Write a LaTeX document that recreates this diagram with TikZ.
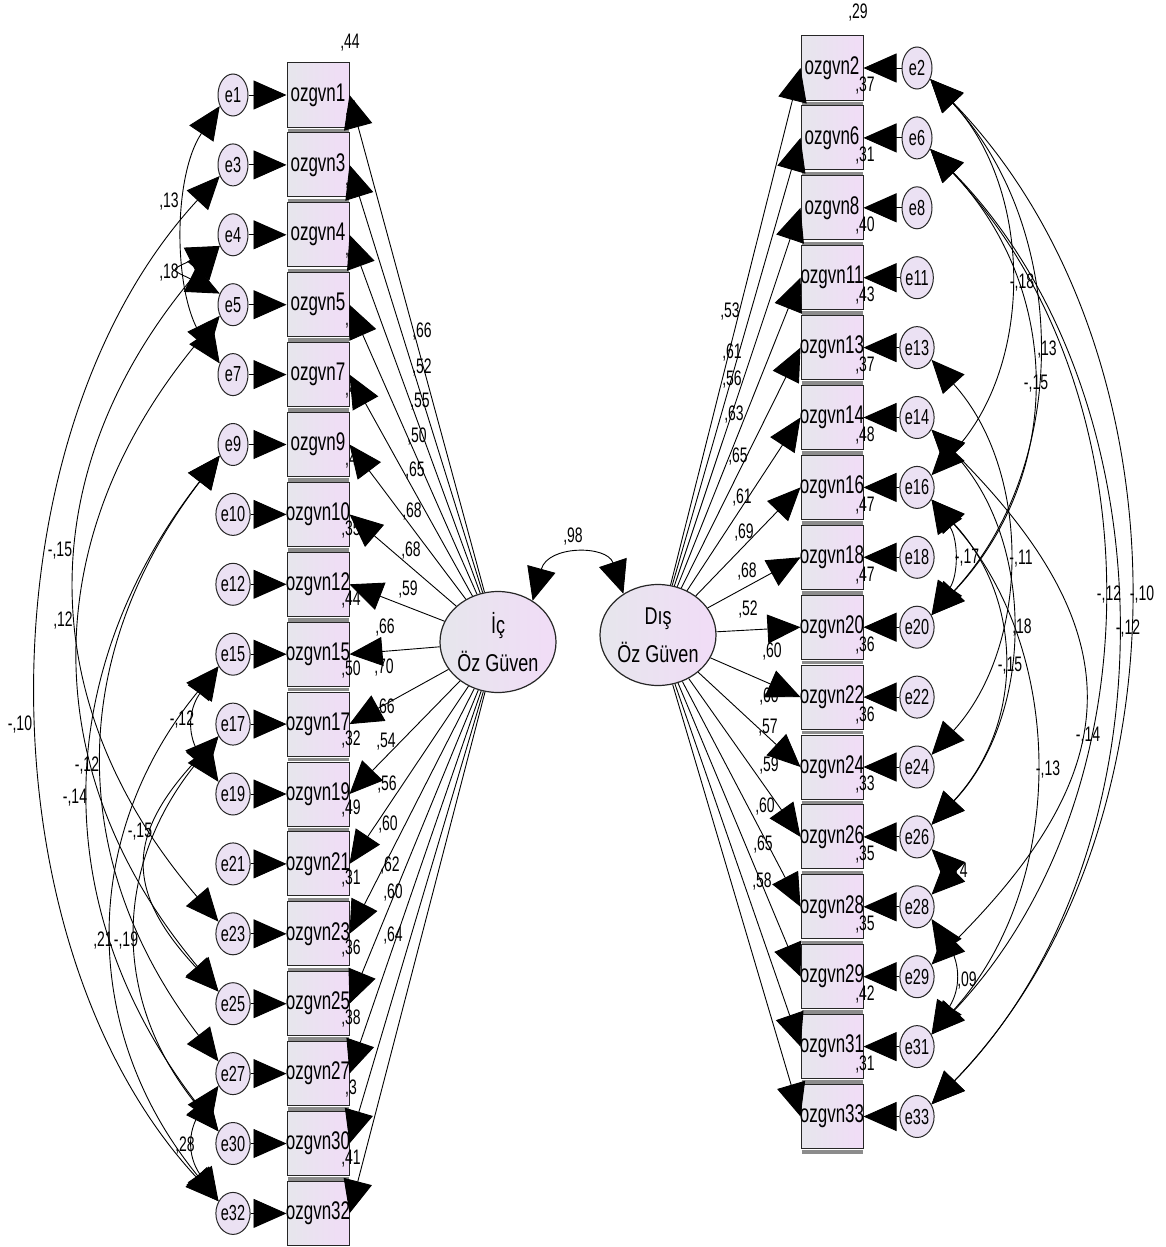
\documentclass[tikz,border=0pt]{standalone}
\usepackage{fontspec}
\setmainfont{Liberation Sans}
\usepackage{graphicx}
\usetikzlibrary{arrows.meta,shapes.geometric,calc}
\definecolor{boxl}{RGB}{230,230,236}
\definecolor{boxr}{RGB}{241,220,247}
\definecolor{errfill}{RGB}{235,225,243}
\newcommand{\tall}[1]{\scalebox{1}[1.5]{#1}}
\newcommand{\latline}[1]{\scalebox{1}[1.35]{#1}}
% covariance arcs: left side bulge to the left, right side to the right
\newcommand{\covl}[4]{\draw[cov] (#1.220) .. controls ($(#1.220)+(-#3,#4)$) and ($(#2.140)+(-#3,-#4)$) .. (#2.140);}
\newcommand{\covr}[4]{\draw[cov] (#1.320) .. controls ($(#1.320)+(#3,#4)$) and ($(#2.40)+(#3,-#4)$) .. (#2.40);}
\tikzset{
  obs/.style={draw=black!85,line width=1pt,left color=boxl,right color=boxr,
    minimum width=62pt,minimum height=64pt,inner sep=0pt,
    font=\fontsize{17}{18}\selectfont},
  shadowline/.style={draw=black!45,line width=3.5pt},
  err/.style={ellipse,draw=black!85,line width=1pt,fill=errfill,
    minimum width=30pt,minimum height=42pt,inner sep=0pt,
    font=\fontsize{14.5}{14}\selectfont},
  lat/.style={ellipse,draw=black!85,line width=1.2pt,left color=boxl,right color=boxr,
    minimum width=116pt,minimum height=101pt,inner sep=0pt,align=center,
    font=\fontsize{18}{38}\selectfont},
  arr/.style={-{Triangle[length=33pt,width=29pt]},line width=0.9pt},
  cov/.style={{Triangle[length=33pt,width=29pt]}-{Triangle[length=33pt,width=29pt]},line width=0.9pt},
  lab/.style={inner sep=0pt,font=\fontsize{14}{14}\selectfont},
}
\begin{document}
\begin{tikzpicture}[x=1pt,y=-1pt]
  \useasboundingbox[fill=white] (0,0) rectangle (1165,1247);

  % Left block: indicators of the first factor
  \foreach \n [count=\i from 0] in {1,3,4,5,7,9,10,12,15,17,19,21,23,25,27,30,32}{
    \node[obs] (o\n) at (318,{95+69.9*\i}) {\makebox[0pt]{\tall{ozgvn\n}}};
    \draw[shadowline] ($(o\n.south west)+(1,3)$) -- ($(o\n.south east)+(-1,3)$);
    \node[err] (e\n) at (233,{95+69.9*\i}) {\tall{e\n}};
  }
  % Right block: indicators of the second factor
  \foreach \n [count=\i from 0] in {2,6,8,11,13,14,16,18,20,22,24,26,28,29,31,33}{
    \node[obs] (o\n) at (832,{68+69.9*\i}) {\makebox[0pt]{\tall{ozgvn\n}}};
    \draw[shadowline] ($(o\n.south west)+(1,3)$) -- ($(o\n.south east)+(-1,3)$);
    \node[err] (e\n) at (917,{68+69.9*\i}) {\tall{e\n}};
  }

  % Latent factors
  \node[lat] (ic) at (498,642) {\latline{İç}\\\latline{Öz Güven}};
  \node[lat] (dis) at (658,635) {\latline{Dış}\\\latline{Öz Güven}};

  % Squared multiple correlations
  \node[lab] at (350,43) {\tall{,44}};
  \node[lab] at (858,13) {\tall{,29}};
  \foreach \t [count=\i from 0] in {{,4},{,3},{,4},{,4},{,4},{,4},{,35},{,44},{,50},{,32},{,49},{,31},{,36},{,38},{,3},{,41}}{
    \node[lab] at (351,{95+69.9*\i+15}) {\tall{\t}};
  }
  \foreach \t [count=\i from 0] in {{,37},{,31},{,40},{,43},{,37},{,48},{,47},{,47},{,36},{,36},{,33},{,35},{,35},{,42},{,31}}{
    \node[lab] at (865,{68+69.9*\i+18}) {\tall{\t}};
  }

  % Loadings
  \foreach \x/\y/\t in {422/332/{,66},422/368/{,52},420/402/{,55},417/437/{,50},
      415/471/{,65},412/512/{,68},411/551/{,68},408/590/{,59},385/628/{,66},
      384/668/{,70},385/708/{,66},386/742/{,54},387/785/{,56},388/825/{,60},
      390/866/{,62},393/893/{,60},393/935/{,64},
      730/312/{,53},732/353/{,61},732/380/{,56},734/415/{,63},738/457/{,65},
      742/498/{,61},744/533/{,69},747/572/{,68},748/610/{,52},772/652/{,60},
      769/697/{,60},768/728/{,57},769/766/{,59},765/807/{,60},763/845/{,65},
      762/882/{,58}}
    \node[lab] at (\x,\y) {\tall{\t}};

  % Covariance labels
  \foreach \x/\y/\t in {169/202/{,13},169/273/{,18},182/720/{-,12},185/1145/{,28},
      20/725/{-,10},60/551/{-,15},63/621/{,12},87/766/{-,12},75/798/{-,14},
      140/832/{-,15},103/940/{,21},126/940/{-,19},
      1022/283/{-,18},1047/350/{,13},1036/384/{-,15},967/558/{-,17},1021/559/{-,11},
      1109/595/{-,12},1142/595/{-,10},1128/629/{-,12},1022/628/{,18},1010/666/{-,15},
      1088/736/{-,14},1048/770/{-,13},958/872/{,14},967/980/{,09},573/537/{,98}}
    \node[lab] at (\x,\y) {\tall{\t}};

  % Paths from factors to indicators
  \foreach \n in {1,3,4,5,7,9,10,12,15,17,19,21,23,25,27,30,32}{
    \draw[arr] (ic) -- (o\n.east);
    \draw[arr] (e\n) -- (o\n);
  }
  \foreach \n in {2,6,8,11,13,14,16,18,20,22,24,26,28,29,31,33}{
    \draw[arr] (dis) -- (o\n.west);
    \draw[arr] (e\n) -- (o\n);
  }

  % Factor correlation
  \draw[cov] (ic.50) .. controls (548,545) and (607,545) .. (dis.130);

  % Error covariances, left
  \covl{e1}{e7}{47}{70}
  \covl{e4}{e5}{50}{25}
  \covl{e15}{e19}{31}{45}
  \covl{e27}{e32}{31}{45}
  \covl{e3}{e32}{240}{260}
  \covl{e4}{e23}{189}{220}
  \covl{e5}{e25}{184}{220}
  \covl{e9}{e27}{153}{200}
  \covl{e9}{e30}{171}{220}
  \covl{e17}{e25}{93}{100}
  \covl{e15}{e32}{139}{170}
  \covl{e17}{e30}{107}{130}

  % Error covariances, right
  \covr{e2}{e16}{103}{110}
  \covr{e2}{e20}{140}{150}
  \covr{e6}{e20}{133}{140}
  \covr{e16}{e20}{27}{40}
  \covr{e13}{e24}{100}{110}
  \covr{e6}{e31}{227}{240}
  \covr{e2}{e33}{262}{270}
  \covr{e6}{e33}{245}{250}
  \covr{e14}{e26}{104}{110}
  \covr{e16}{e26}{93}{100}
  \covr{e14}{e29}{200}{200}
  \covr{e16}{e31}{136}{150}
  \covr{e26}{e28}{20}{20}
  \covr{e28}{e31}{29}{45}
\end{tikzpicture}
\end{document}
